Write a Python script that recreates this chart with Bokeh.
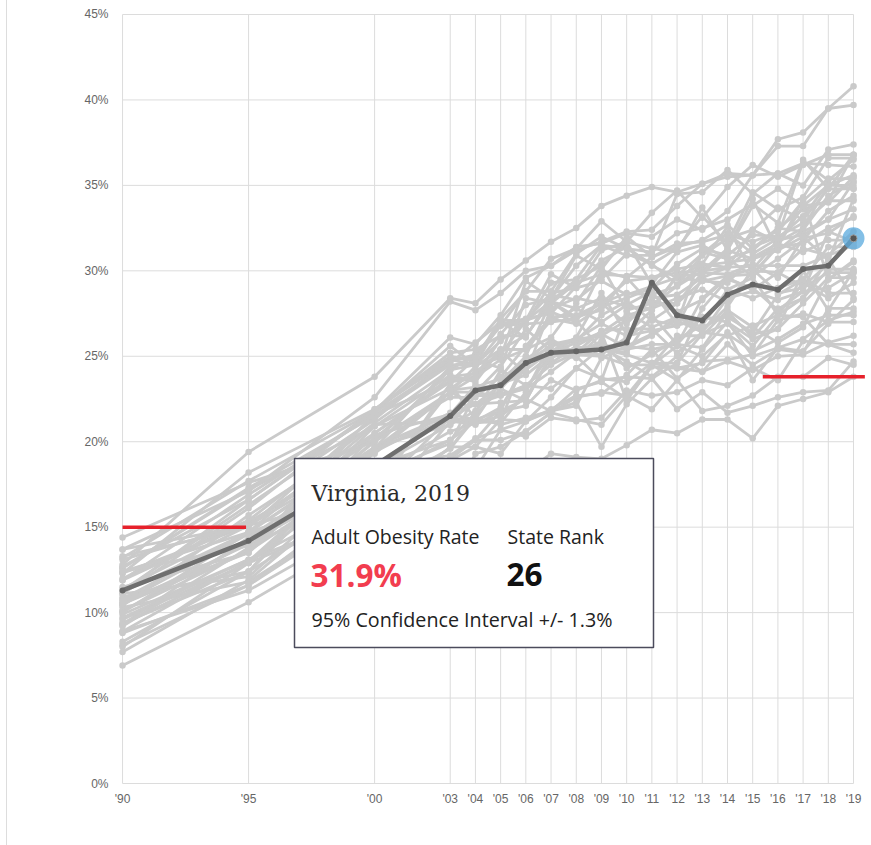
from bokeh.plotting import figure
from bokeh.models import FixedTicker, Range1d, Label, BoxAnnotation, InlineStyleSheet
from bokeh.embed import file_html
from bokeh.resources import INLINE

# ---------------- data ----------------
years = [1990, 1995, 2000, 2003, 2004, 2005, 2006, 2007, 2008, 2009,
         2010, 2011, 2012, 2013, 2014, 2015, 2016, 2017, 2018, 2019]
year_labels = ["'90", "'95", "'00", "'03", "'04", "'05", "'06", "'07", "'08", "'09",
               "'10", "'11", "'12", "'13", "'14", "'15", "'16", "'17", "'18", "'19"]
pct_ticks = [0, 5, 10, 15, 20, 25, 30, 35, 40, 45]
pct_labels = ["0%", "5%", "10%", "15%", "20%", "25%", "30%", "35%", "40%", "45%"]

alabama = [11.2, 16.6, 21.8, 26.1, 25.7, 27.4, 29.6, 30.3, 31.4, 31.6, 32.2, 32.0, 33.0, 32.4, 33.5, 35.6, 35.7, 36.3, 36.2, 36.1]
alaska = [10.9, 12.4, 20.5, 23.5, 23.7, 25.4, 26.2, 28.2, 27.1, 25.4, 25.2, 27.4, 25.7, 28.4, 29.7, 29.8, 31.4, 34.2, 29.5, 30.5]
arizona = [11.1, 12.1, 18.6, 20.1, 21.2, 21.1, 22.9, 25.8, 25.1, 25.9, 24.3, 25.1, 26.0, 26.8, 28.9, 28.4, 29.0, 29.5, 31.4, 31.4]
arkansas = [12.6, 17.3, 21.5, 24.7, 25.1, 26.8, 26.9, 29.3, 29.5, 31.5, 30.9, 30.9, 34.5, 34.6, 35.9, 34.5, 35.7, 35.0, 37.1, 37.4]
california = [9.3, 14.4, 19.3, 22.9, 22.2, 22.7, 23.3, 23.1, 24.3, 25.5, 24.7, 23.8, 25.0, 24.1, 24.7, 24.2, 25.0, 25.1, 25.8, 26.2]
colorado = [6.9, 10.6, 14.9, 16.0, 17.8, 17.8, 18.2, 19.3, 19.1, 19.0, 19.8, 20.7, 20.5, 21.3, 21.3, 20.2, 22.1, 22.5, 22.9, 23.8]
connecticut = [10.3, 11.8, 16.5, 19.1, 20.1, 20.1, 20.6, 21.7, 21.3, 21.0, 22.7, 24.5, 25.6, 25.0, 26.3, 25.3, 26.0, 26.9, 27.4, 27.4]
delaware = [13.7, 15.1, 17.0, 23.4, 21.3, 23.5, 25.0, 28.2, 27.8, 27.0, 28.0, 28.8, 26.9, 31.1, 30.7, 29.7, 30.7, 31.8, 33.5, 34.4]
district_of_columbia = [12.4, 14.7, 19.7, 21.6, 21.3, 21.8, 22.5, 21.8, 22.3, 19.7, 22.2, 23.7, 21.9, 22.9, 21.7, 22.1, 22.6, 22.9, 23.0, 24.7]
florida = [10.1, 14.1, 18.1, 19.9, 22.8, 22.8, 23.1, 24.1, 25.2, 26.5, 26.6, 26.6, 25.2, 26.4, 26.2, 26.8, 27.4, 28.4, 30.7, 28.4]
georgia = [10.1, 13.6, 20.9, 23.1, 24.1, 25.1, 27.1, 28.2, 27.3, 27.7, 29.6, 28.0, 29.1, 30.3, 30.5, 30.7, 31.4, 31.6, 32.5, 33.1]
hawaii = [8.9, 11.3, 15.5, 16.4, 19.3, 19.7, 20.6, 21.7, 22.6, 22.9, 22.7, 21.9, 23.6, 21.8, 22.1, 22.7, 23.8, 23.8, 24.9, 24.5]
idaho = [10.5, 13.6, 18.5, 21.0, 21.8, 23.4, 23.9, 25.1, 25.2, 25.1, 26.1, 27.1, 26.8, 29.6, 28.9, 29.6, 27.4, 29.3, 28.4, 29.3]
illinois = [12.3, 15.1, 20.4, 21.6, 23.3, 23.1, 24.7, 25.6, 25.9, 27.4, 28.2, 27.1, 28.1, 29.4, 29.3, 30.8, 31.6, 31.1, 31.8, 31.8]
indiana = [14.4, 17.6, 20.0, 24.2, 25.1, 26.8, 27.1, 27.6, 27.0, 30.0, 29.6, 30.8, 31.4, 31.8, 32.7, 31.3, 32.5, 33.6, 34.1, 36.8]
iowa = [12.6, 17.2, 20.9, 23.9, 23.5, 25.4, 25.4, 27.2, 26.9, 27.9, 28.4, 29.0, 30.4, 31.3, 30.9, 32.1, 32.0, 36.4, 35.3, 36.5]
kansas = [11.5, 13.5, 20.1, 22.6, 22.6, 23.8, 25.6, 27.3, 27.4, 28.1, 29.4, 29.6, 29.9, 30.0, 31.3, 34.2, 31.2, 32.4, 34.4, 35.2]
kentucky = [12.7, 16.6, 21.7, 25.6, 24.5, 26.3, 28.0, 28.4, 30.3, 31.5, 31.3, 30.4, 31.3, 33.2, 31.6, 34.6, 33.6, 34.3, 36.6, 36.6]
louisiana = [12.3, 18.2, 21.9, 24.8, 24.5, 27.1, 27.1, 29.8, 29.0, 31.2, 31.7, 33.4, 34.7, 33.1, 34.9, 36.2, 35.5, 36.2, 36.8, 36.8]
maine = [9.4, 12.4, 19.7, 21.0, 22.7, 22.7, 23.1, 25.2, 25.8, 26.4, 27.4, 27.8, 28.4, 28.9, 28.2, 30.0, 29.9, 29.1, 30.4, 31.7]
maryland = [10.8, 14.7, 19.5, 21.4, 21.2, 22.0, 24.4, 25.7, 26.0, 26.2, 27.1, 28.3, 27.6, 28.3, 29.6, 28.9, 29.9, 31.3, 30.9, 32.3]
massachusetts = [8.8, 11.6, 16.4, 16.8, 18.4, 20.7, 20.3, 21.4, 21.2, 21.4, 23.0, 22.7, 22.9, 23.6, 23.3, 24.3, 23.6, 25.9, 25.7, 25.2]
michigan = [13.2, 17.7, 21.8, 25.2, 25.4, 26.2, 26.2, 28.2, 29.5, 30.3, 31.7, 31.3, 31.1, 31.5, 30.7, 31.2, 32.5, 32.3, 33.0, 35.2]
minnesota = [10.6, 14.6, 17.4, 23.0, 23.2, 23.7, 24.7, 26.0, 25.2, 25.4, 25.4, 25.7, 25.7, 25.5, 27.6, 26.1, 27.8, 28.4, 30.1, 30.1]
mississippi = [12.8, 19.4, 23.8, 28.4, 28.1, 29.5, 30.6, 31.7, 32.5, 33.8, 34.4, 34.9, 34.6, 35.1, 35.5, 35.6, 37.3, 37.3, 39.5, 40.8]
missouri = [11.9, 16.9, 21.6, 23.5, 24.9, 26.9, 27.2, 27.5, 29.1, 30.6, 31.4, 30.3, 29.6, 30.4, 30.2, 32.4, 31.7, 32.5, 35.0, 35.0]
montana = [9.6, 12.9, 16.0, 19.7, 19.7, 21.3, 21.2, 22.6, 24.3, 23.7, 23.5, 24.6, 24.3, 24.6, 26.4, 23.6, 25.5, 25.3, 26.9, 28.3]
nebraska = [10.4, 15.7, 20.5, 23.6, 23.8, 26.0, 26.9, 27.0, 27.2, 28.1, 26.9, 28.4, 28.6, 29.6, 30.2, 31.4, 32.0, 32.8, 34.1, 34.1]
nevada = [9.9, 13.1, 15.9, 21.2, 21.1, 21.2, 25.0, 24.6, 25.6, 26.4, 22.4, 24.5, 26.2, 26.2, 27.7, 26.7, 25.8, 26.7, 29.5, 30.6]
new_hampshire = [10.0, 14.7, 17.1, 19.6, 21.6, 23.1, 22.4, 25.1, 24.9, 26.3, 25.5, 26.2, 27.3, 26.7, 27.4, 26.3, 26.6, 28.1, 29.6, 29.6]
new_jersey = [9.7, 13.1, 17.0, 19.0, 20.1, 21.8, 22.1, 23.6, 23.0, 23.6, 23.8, 23.7, 24.6, 26.3, 26.9, 25.6, 27.4, 27.3, 25.7, 25.7]
new_mexico = [7.7, 11.9, 18.1, 20.6, 21.1, 21.5, 22.6, 24.9, 25.5, 25.6, 25.6, 26.3, 27.1, 26.4, 28.4, 28.8, 28.3, 28.8, 32.3, 31.7]
new_york = [10.5, 14.0, 17.1, 21.4, 22.2, 22.3, 22.4, 25.1, 25.1, 25.0, 24.5, 24.5, 23.6, 25.4, 27.0, 25.0, 25.5, 26.0, 27.1, 27.6]
north_carolina = [12.0, 15.4, 21.1, 24.2, 24.5, 25.9, 27.1, 28.7, 29.0, 29.4, 28.6, 29.1, 29.6, 29.4, 29.7, 30.1, 31.8, 32.1, 33.0, 33.6]
north_dakota = [11.9, 15.3, 19.6, 22.9, 24.4, 25.4, 25.4, 27.1, 27.8, 28.4, 27.9, 27.8, 29.7, 31.0, 32.2, 31.0, 31.9, 33.2, 35.1, 34.8]
ohio = [11.3, 16.3, 21.3, 24.9, 24.8, 24.3, 28.4, 28.1, 29.3, 29.8, 29.7, 29.6, 30.1, 30.4, 32.6, 29.8, 31.5, 33.8, 34.0, 35.5]
oklahoma = [8.9, 13.0, 19.6, 24.4, 24.9, 26.8, 28.8, 28.8, 31.0, 32.0, 31.3, 31.1, 32.2, 32.5, 33.0, 33.9, 32.8, 36.5, 34.8, 36.8]
oregon = [11.2, 14.7, 21.0, 21.2, 21.0, 21.8, 24.8, 25.9, 25.0, 23.6, 27.6, 26.7, 27.3, 26.5, 27.9, 30.1, 28.7, 29.0, 29.9, 29.9]
pennsylvania = [13.1, 15.2, 20.2, 23.8, 24.0, 25.3, 24.0, 27.8, 28.4, 28.1, 28.7, 28.6, 29.1, 30.0, 30.2, 30.3, 30.3, 30.3, 30.9, 31.5]
rhode_island = [8.3, 12.4, 16.9, 19.6, 21.4, 21.0, 21.4, 21.8, 22.1, 24.9, 25.6, 25.4, 25.7, 27.3, 27.0, 26.0, 26.6, 30.0, 27.7, 30.0]
south_carolina = [13.3, 15.0, 21.5, 24.5, 24.5, 24.9, 29.4, 28.4, 30.9, 30.1, 32.0, 30.8, 31.6, 31.7, 32.1, 31.7, 32.3, 34.1, 35.4, 35.4]
south_dakota = [12.4, 13.9, 20.0, 22.9, 23.8, 24.8, 25.4, 26.1, 28.1, 30.3, 27.7, 28.1, 28.1, 29.9, 29.8, 30.4, 29.6, 31.9, 32.2, 33.2]
tennessee = [11.1, 16.1, 21.9, 25.0, 24.8, 27.2, 28.8, 30.7, 31.3, 32.9, 31.7, 29.2, 31.1, 33.7, 31.2, 33.8, 34.8, 33.8, 35.0, 35.6]
texas = [10.7, 13.5, 21.7, 24.6, 25.8, 27.0, 26.1, 28.6, 28.3, 29.5, 31.0, 30.4, 29.2, 30.9, 31.9, 32.4, 33.7, 33.0, 34.8, 34.8]
utah = [8.0, 12.9, 18.5, 19.2, 20.2, 20.7, 21.2, 21.8, 23.1, 23.5, 22.5, 24.4, 24.3, 24.1, 25.7, 24.5, 25.4, 25.2, 27.8, 27.8]
vermont = [8.1, 11.6, 17.1, 18.9, 19.7, 19.3, 21.2, 21.9, 22.7, 22.8, 23.9, 25.4, 23.7, 24.7, 24.8, 25.1, 27.1, 27.5, 27.0, 27.0]
virginia = [11.3, 14.2, 18.6, 21.5, 23.0, 23.3, 24.6, 25.2, 25.3, 25.4, 25.8, 29.3, 27.4, 27.1, 28.6, 29.2, 28.9, 30.1, 30.3, 31.9]
washington = [9.3, 12.9, 19.4, 21.7, 22.2, 23.3, 24.2, 25.3, 26.0, 26.9, 26.2, 26.5, 26.8, 27.2, 27.3, 26.4, 28.6, 29.5, 28.7, 28.7]
west_virginia = [13.7, 17.1, 22.6, 28.2, 27.7, 28.7, 30.0, 30.3, 31.2, 31.7, 32.3, 32.4, 33.8, 35.1, 35.7, 35.6, 37.7, 38.1, 39.5, 39.7]
wisconsin = [11.4, 15.1, 19.4, 22.9, 22.9, 24.4, 26.6, 25.3, 26.1, 28.7, 26.3, 27.7, 29.7, 29.8, 31.2, 30.7, 31.2, 32.0, 30.6, 34.2]
wyoming = [9.2, 13.8, 17.8, 20.1, 21.7, 24.2, 23.3, 24.5, 25.2, 25.4, 25.1, 24.6, 24.6, 27.8, 29.5, 29.0, 27.7, 28.8, 29.0, 29.9]

other_states = [alabama, alaska, arizona, arkansas, california, colorado, connecticut,
                delaware, district_of_columbia, florida, georgia, hawaii, idaho, illinois,
                indiana, iowa, kansas, kentucky, louisiana, maine, maryland, massachusetts,
                michigan, minnesota, mississippi, missouri, montana, nebraska, nevada,
                new_hampshire, new_jersey, new_mexico, new_york, north_carolina,
                north_dakota, ohio, oklahoma, oregon, pennsylvania, rhode_island,
                south_carolina, south_dakota, tennessee, texas, utah, vermont,
                washington, west_virginia, wisconsin, wyoming]

highlight_name = "Virginia"
highlight_year = 2019
highlight_rate = 31.9
highlight_rank = 26
highlight_ci = 1.3

# red reference marks: [start year, end year, level]
ref_start = [1990, 2015.4]
ref_end = [1994.9, 2019.45]
ref_level = [15.0, 23.8]

# ---------------- figure ----------------
edge = InlineStyleSheet(css=":host::after { content: ''; position: absolute; left: 6px; top: 0; "
                            "width: 1px; height: 845px; background: #dddddd; z-index: 10; }")
p = figure(width=866, height=825,
           x_range=Range1d(1989.8, 2019.515), y_range=Range1d(-0.117, 45.117),
           output_backend="svg", toolbar_location=None,
           min_border_left=117, min_border_right=0, min_border_top=12, min_border_bottom=40,
           stylesheets=[edge])
p.outline_line_color = None
p.xgrid.visible = False
p.ygrid.visible = False

GRID = "#dcdcdc"
# horizontal grid
p.segment(x0=[years[0]] * len(pct_ticks), x1=[years[-1]] * len(pct_ticks),
          y0=pct_ticks, y1=pct_ticks, line_color=GRID, line_width=1)
# vertical grid
p.segment(x0=years, x1=years, y0=[pct_ticks[0]] * len(years), y1=[pct_ticks[-1]] * len(years),
          line_color=GRID, line_width=1)

# axes
p.xaxis.ticker = FixedTicker(ticks=years)
p.xaxis.major_label_overrides = {y: l for y, l in zip(years, year_labels)}
p.yaxis.ticker = FixedTicker(ticks=pct_ticks)
p.yaxis.major_label_overrides = {t: l for t, l in zip(pct_ticks, pct_labels)}
for ax in (p.xaxis, p.yaxis):
    ax.axis_line_color = None
    ax.major_tick_line_color = None
    ax.minor_tick_line_color = None
    ax.major_label_text_font = "Liberation Sans"
    ax.major_label_text_font_size = "12px"
    ax.major_label_text_color = "#666666"
p.xaxis.major_label_standoff = 0
p.yaxis.major_label_standoff = 3

# state lines
GRAY = "#cacaca"
p.multi_line(xs=[years] * len(other_states), ys=other_states, line_color=GRAY, line_width=2.8)
all_x = [y for _ in other_states for y in years]
all_y = [v for s in other_states for v in s]
p.scatter(all_x, all_y, size=6.5, fill_color=GRAY, line_color=None)

# reference red lines
p.segment(x0=ref_start, x1=ref_end, y0=ref_level, y1=ref_level,
          line_color="#e6212b", line_width=3.5)

# highlighted state
p.line(years, virginia, line_color="#6f6f6f", line_width=4.5)
p.scatter(years, virginia, size=6, fill_color="#666666", line_color=None)
p.scatter([highlight_year], [highlight_rate], size=22, fill_color="#5aa9de",
          fill_alpha=0.75, line_color=None)
p.scatter([highlight_year], [highlight_rate], size=7, fill_color="#555555",
          line_color="#9a9a9a", line_width=1)

# tooltip
box = BoxAnnotation(left=177, right=536, top=327, bottom=138,
                    left_units="screen", right_units="screen",
                    top_units="screen", bottom_units="screen",
                    fill_color="white", fill_alpha=1.0,
                    line_color="#4b4b5c", line_alpha=1.0, line_width=1.5)
p.add_layout(box)

def lab(x, y, text, font, size, color, style="normal"):
    p.add_layout(Label(x=x, y=y, x_units="screen", y_units="screen", text=text,
                       text_font=font, text_font_size=size, text_color=color,
                       text_font_style=style, text_baseline="alphabetic", text_align="left"))

lab(194, 292, f"{highlight_name}, {highlight_year}", "DejaVu Serif", "22px", "#2b2b2b")
lab(194, 249, "Adult Obesity Rate", "Open Sans", "19.5px", "#222222")
lab(390, 249, "State Rank", "Open Sans", "19.5px", "#222222")
lab(193, 211, f"{highlight_rate}%", "Open Sans", "31.5px", "#f23d4f", "bold")
lab(389, 211, f"{highlight_rank}", "Open Sans", "31.5px", "#111111", "bold")
lab(194, 166, f"95% Confidence Interval +/- {highlight_ci}%", "Open Sans", "19.7px", "#222222")

open("out.html", "w").write(file_html(p, INLINE))
